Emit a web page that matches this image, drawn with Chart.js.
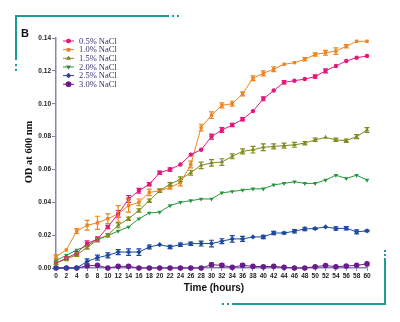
<!DOCTYPE html>
<html>
<head>
<meta charset="utf-8">
<script src="https://cdn.jsdelivr.net/npm/chart.js@4"></script>
<style>
  body { margin: 0; background: #fff; }
  #wrap { position: relative; width: 400px; height: 322px; }
  .teal { position: absolute; background: #1f9a96; }
  .dot { position: absolute; width: 2px; height: 2px; background: #1f9a96; }
  #lbl { position: absolute; left: 21px; top: 27px; font: bold 11px "Liberation Sans", Arial, sans-serif; color: #111; }
</style>
</head>
<body>
<div id="wrap">
  <canvas id="chart" width="400" height="322"></canvas>
  <div class="teal" style="left:15px;top:15px;width:154px;height:1.5px"></div>
  <div class="dot" style="left:172px;top:15px"></div>
  <div class="dot" style="left:177px;top:15px"></div>
  <div class="teal" style="left:15px;top:15px;width:1.5px;height:45px"></div>
  <div class="dot" style="left:15px;top:64px"></div>
  <div class="dot" style="left:15px;top:69px"></div>
  <div class="teal" style="left:384px;top:258px;width:1.5px;height:47px"></div>
  <div class="dot" style="left:384px;top:250px"></div>
  <div class="dot" style="left:384px;top:254px"></div>
  <div class="teal" style="left:232px;top:303px;width:154px;height:1.5px"></div>
  <div class="dot" style="left:222px;top:303px"></div>
  <div class="dot" style="left:227px;top:303px"></div>
  <div id="lbl">B</div>
</div>
<script>
var hours = [0,2,4,6,8,10,12,14,16,18,20,22,24,26,28,30,32,34,36,38,40,42,44,46,48,50,52,54,56,58,60];
var seriesNames = ['0.5% NaCl','1.0% NaCl','1.5% NaCl','2.0% NaCl','2.5% NaCl','3.0% NaCl'];

var nacl05 = [0.003,0.006,0.009,0.015,0.0175,0.025,0.033,0.042,0.047,0.051,0.058,0.060,0.063,0.069,0.072,0.080,0.084,0.087,0.0905,0.0955,0.103,0.108,0.113,0.114,0.115,0.1165,0.120,0.123,0.126,0.128,0.129];
var nacl10 = [0.007,0.011,0.0225,0.026,0.0275,0.030,0.033,0.038,0.040,0.046,0.047,0.049,0.052,0.063,0.0855,0.093,0.099,0.100,0.106,0.1155,0.1185,0.121,0.124,0.125,0.127,0.130,0.131,0.132,0.135,0.138,0.138];
var nacl15 = [0.003,0.0055,0.008,0.0125,0.017,0.020,0.026,0.030,0.035,0.041,0.047,0.051,0.054,0.058,0.0625,0.064,0.0645,0.068,0.071,0.072,0.0735,0.074,0.0745,0.075,0.076,0.078,0.0795,0.078,0.0775,0.080,0.084];
var nacl20 = [0.0045,0.0077,0.011,0.0135,0.0177,0.0197,0.0225,0.025,0.030,0.0335,0.034,0.038,0.040,0.041,0.042,0.042,0.0457,0.0466,0.0474,0.0482,0.0482,0.0506,0.0515,0.0525,0.0515,0.0515,0.0535,0.0565,0.0545,0.0565,0.0535];
var nacl25 = [0,0,0,0.004,0.0063,0.0077,0.0097,0.0097,0.0097,0.0128,0.0142,0.0128,0.0142,0.0148,0.0149,0.0149,0.0163,0.0177,0.0177,0.0189,0.0189,0.0213,0.0213,0.0224,0.0238,0.024,0.025,0.024,0.0242,0.022,0.0226];
var nacl30 = [0,0,0,0.0013,0.0016,0,0.001,0.001,0,0,0,0,0,0,0,0.002,0.0016,0.0004,0.0016,0.001,0.0008,0.001,0.0004,0,0,0.0008,0.0015,0.0008,0.0012,0.0016,0.0025];

// standard errors
var err05 = [0,0.001,0.001,0.0015,0.0015,0.001,0.002,0.002,0.0015,0.001,0.001,0.001,0,0,0,0.0015,0.0015,0.001,0.001,0,0.0012,0,0.001,0,0,0.001,0.0012,0,0,0,0];
var err10 = [0.001,0,0.0015,0.003,0.004,0.003,0.005,0.004,0.002,0.002,0.001,0.001,0.002,0.002,0.002,0.002,0.0015,0.0015,0.0012,0.0015,0.0015,0.0015,0,0,0.001,0.001,0.0015,0.002,0.001,0,0];
var err15 = [0.001,0.001,0.001,0.001,0.001,0.001,0.0015,0.001,0.001,0.001,0.001,0.001,0.0015,0.0015,0.002,0.002,0.002,0.0015,0.0015,0.002,0.002,0.0015,0.0015,0.0015,0.001,0.001,0,0.001,0.001,0.0012,0.0015];
var err25 = [0,0,0,0.0015,0.0015,0.0015,0.0015,0.002,0.002,0.0012,0,0.001,0.001,0.001,0.0015,0.002,0.0015,0.002,0.0015,0,0.001,0.001,0.0005,0.001,0.001,0.0005,0,0.001,0.001,0.0012,0.0005];
var err30 = [0,0,0,0,0,0,0,0,0,0,0,0,0,0,0,0.001,0.001,0,0.001,0,0,0,0,0,0,0,0,0,0,0,0];

var axisColor = '#8585b5';

function pts(arr) {
    return arr.map(function (v, i) { return {x: hours[i], y: v}; });
}

function makeSet(i, values, errs, color, style, radius, rot) {
    return {
        label: seriesNames[i],
        data: pts(values),
        errs: errs,
        borderColor: color,
        backgroundColor: color,
        borderWidth: 1,
        pointStyle: style,
        pointRadius: radius,
        pointRotation: rot || 0,
        pointBorderWidth: 0,
        tension: 0,
        clip: false
    };
}

var errorBars = {
    id: 'errorBars',
    afterDatasetsDraw: function (chart) {
        var ctx = chart.ctx;
        var xs = chart.scales.x, ys = chart.scales.y;
        chart.data.datasets.forEach(function (ds) {
            if (!ds.errs) return;
            ctx.save();
            ctx.strokeStyle = ds.borderColor;
            ctx.lineWidth = 1.2;
            ds.data.forEach(function (p, i) {
                var e = ds.errs[i];
                if (!e) return;
                var x = xs.getPixelForValue(p.x);
                var y1 = ys.getPixelForValue(p.y + e);
                var y2 = ys.getPixelForValue(Math.max(0, p.y - e));
                ctx.beginPath();
                ctx.moveTo(x, y1); ctx.lineTo(x, y2);
                ctx.moveTo(x - 2.5, y1); ctx.lineTo(x + 2.5, y1);
                ctx.moveTo(x - 2.5, y2); ctx.lineTo(x + 2.5, y2);
                ctx.stroke();
            });
            ctx.restore();
        });
    }
};

var extras = {
    id: 'extras',
    afterDraw: function (chart) {
        var ctx = chart.ctx;
        // legend
        chart.data.datasets.forEach(function (ds, i) {
            var y = 41 + i * 8.65;
            ctx.save();
            ctx.strokeStyle = ds.borderColor;
            ctx.lineWidth = 1;
            ctx.beginPath();
            ctx.moveTo(63, y); ctx.lineTo(74, y);
            ctx.stroke();
            Chart.helpers.drawPoint(ctx, {
                pointStyle: ds.pointStyle, radius: ds.pointRadius,
                rotation: ds.pointRotation, borderWidth: 0
            }, 68.5, y);
            ctx.fillStyle = ds.borderColor;
            ctx.fill();
            ctx.fillStyle = '#3b2f6b';
            ctx.font = '8.5px "Liberation Serif", "Times New Roman", serif';
            ctx.textBaseline = 'middle';
            ctx.fillText(ds.label, 79, y + 0.5);
            ctx.restore();
        });
        // axis titles
        ctx.save();
        ctx.fillStyle = '#111';
        ctx.font = 'bold 10px "Liberation Sans", Arial, sans-serif';
        ctx.textAlign = 'center';
        ctx.textBaseline = 'middle';
        ctx.fillText('Time (hours)', 214, 288);
        ctx.translate(29, 152);
        ctx.rotate(-Math.PI / 2);
        ctx.font = 'bold 10.5px "Liberation Serif", "Times New Roman", serif';
        ctx.fillText('OD at 600 nm', 0, 0);
        ctx.restore();
    }
};

new Chart(document.getElementById('chart'), {
    type: 'line',
    data: {
        datasets: [
            makeSet(0, nacl05, err05, '#e2187b', 'circle', 2.2),
            makeSet(1, nacl10, err10, '#f0841e', 'rect', 2.4),
            makeSet(2, nacl15, err15, '#7f8b1f', 'triangle', 2.6),
            makeSet(3, nacl20, null, '#26963f', 'triangle', 2.6, 180),
            makeSet(4, nacl25, err25, '#1d4a9e', 'rectRot', 2.6),
            makeSet(5, nacl30, err30, '#6a1b8c', 'circle', 2.8)
        ]
    },
    plugins: [errorBars, extras],
    options: {
        responsive: false,
        animation: false,
        events: [],
        layout: { padding: { left: 0, right: 33, top: 38, bottom: 0 } },
        plugins: { legend: { display: false }, tooltip: { enabled: false } },
        scales: {
            x: {
                type: 'linear',
                min: 0,
                max: 60,
                afterFit: function (s) { s.height = 54; },
                ticks: {
                    stepSize: 2,
                    autoSkip: false,
                    maxRotation: 0,
                    padding: 1,
                    color: '#222',
                    font: { family: '"Liberation Sans", Arial, sans-serif', size: 6.5, weight: 'bold' }
                },
                grid: { drawOnChartArea: false, tickLength: 3, color: axisColor },
                border: { color: axisColor, width: 1.5 }
            },
            y: {
                min: 0,
                max: 0.14,
                afterFit: function (s) { s.width = 56; },
                ticks: {
                    stepSize: 0.02,
                    padding: 1,
                    color: '#222',
                    font: { family: '"Liberation Sans", Arial, sans-serif', size: 6.5, weight: 'bold' },
                    callback: function (v) { return v.toFixed(2); }
                },
                grid: { drawOnChartArea: false, tickLength: 4, color: axisColor },
                border: { color: axisColor, width: 1.5 }
            }
        }
    }
});
</script>
</body>
</html>
